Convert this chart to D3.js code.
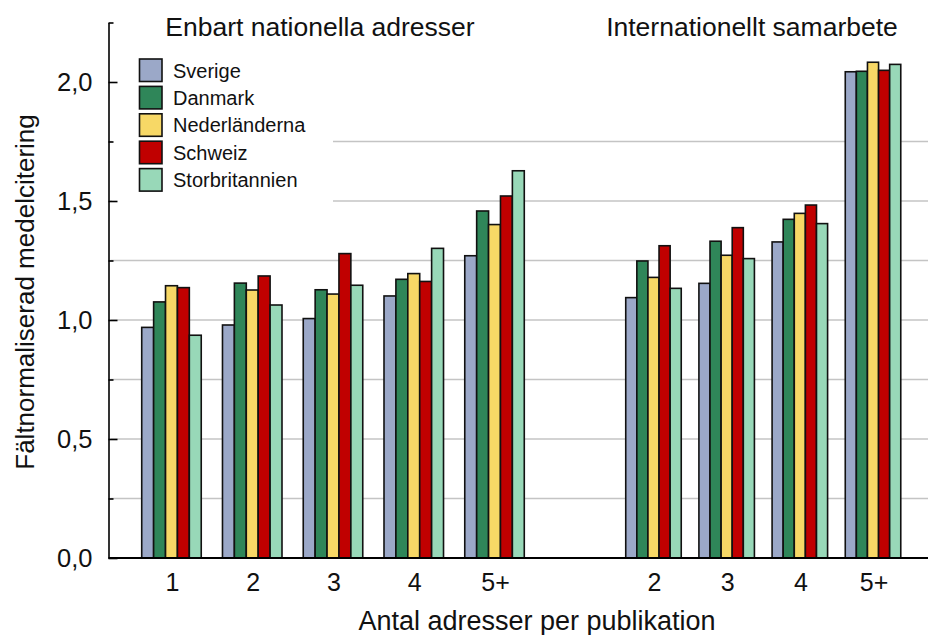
<!DOCTYPE html>
<html>
<head>
<meta charset="utf-8">
<script src="https://cdn.jsdelivr.net/npm/d3@7"></script>
<style>
  html, body { margin: 0; padding: 0; background: #fff; }
  svg { display: block; font-family: "Liberation Sans", Arial, sans-serif; }
</style>
</head>
<body>
<svg id="chart" width="928" height="635"></svg>
<script>
// ---- data ----
const series = ["Sverige", "Danmark", "Nederländerna", "Schweiz", "Storbritannien"];
const seriesColors = ["#9ba8c8", "#2f8659", "#f7d866", "#c00000", "#98d8b8"];

const nationalCategories = ["1", "2", "3", "4", "5+"];
const internationalCategories = ["2", "3", "4", "5+"];

const natSverige        = [0.969, 0.979, 1.006, 1.101, 1.270];
const natDanmark        = [1.076, 1.155, 1.127, 1.171, 1.458];
const natNederlanderna  = [1.144, 1.126, 1.109, 1.195, 1.401];
const natSchweiz        = [1.136, 1.185, 1.279, 1.162, 1.521];
const natStorbritannien = [0.936, 1.063, 1.146, 1.301, 1.627];

const intSverige        = [1.094, 1.154, 1.328, 2.043];
const intDanmark        = [1.248, 1.331, 1.423, 2.045];
const intNederlanderna  = [1.179, 1.272, 1.448, 2.083];
const intSchweiz        = [1.312, 1.388, 1.483, 2.049];
const intStorbritannien = [1.133, 1.258, 1.405, 2.074];

const majorTicks = [0, 0.5, 1.0, 1.5, 2.0];
const minorTicks = [0.25, 0.75, 1.25, 1.75, 2.25];
const gridValues = [0.25, 0.5, 0.75, 1.0, 1.25, 1.5, 1.75];

const panelTitles = ["Enbart nationella adresser", "Internationellt samarbete"];
const yTitle = "Fältnormaliserad medelcitering";
const xTitle = "Antal adresser per publikation";

const natTable = [natSverige, natDanmark, natNederlanderna, natSchweiz, natStorbritannien];
const intTable = [intSverige, intDanmark, intNederlanderna, intSchweiz, intStorbritannien];

// ---- layout ----
const svg = d3.select("#chart");
const axisX = 108.5;
const rightEdge = 928;
const y = d3.scaleLinear().domain([0, 2.25]).range([558, 22.5]);
const locale = d3.formatLocale({decimal: ",", thousands: " ", grouping: [3], currency: ["", " kr"]});
const fmt = locale.format(".1f");

const xNat = d3.scaleBand().domain(nationalCategories).range([131.1, 534.9])
  .paddingInner(0.263).paddingOuter(0.1315);
const xInt = d3.scaleBand().domain(internationalCategories).range([616.9, 909.6])
  .paddingInner(0.2415).paddingOuter(0.12075);

// gridlines
svg.append("g").selectAll("line").data(gridValues).join("line")
  .attr("x1", axisX + 2).attr("x2", rightEdge)
  .attr("y1", d => y(d)).attr("y2", d => y(d))
  .attr("stroke", "#c4c4c4").attr("stroke-width", 1.6);

// legend background (hides gridlines behind it)
svg.append("rect").attr("x", axisX + 3).attr("y", 46).attr("width", 333 - axisX - 3).attr("height", 166)
  .attr("fill", "#fff");

// bars
function drawPanel(xScale, cats, table) {
  const inner = d3.scaleBand().domain(series).range([0, xScale.bandwidth()]);
  const g = svg.append("g");
  cats.forEach((c, ci) => {
    series.forEach((s, si) => {
      const v = table[si][ci];
      g.append("rect")
        .attr("x", xScale(c) + inner(s))
        .attr("y", y(v))
        .attr("width", inner.bandwidth())
        .attr("height", y(0) - y(v))
        .attr("fill", seriesColors[si])
        .attr("stroke", "#111")
        .attr("stroke-width", 1.6);
    });
  });
  // category labels
  svg.append("g").selectAll("text").data(cats).join("text")
    .attr("x", d => xScale(d) + xScale.bandwidth() / 2 + 1)
    .attr("y", 591)
    .attr("text-anchor", "middle")
    .attr("font-size", 25)
    .attr("fill", "#111")
    .text(d => d);
}
drawPanel(xNat, nationalCategories, natTable);
drawPanel(xInt, internationalCategories, intTable);

// baseline
svg.append("line").attr("x1", axisX).attr("x2", rightEdge)
  .attr("y1", y(0)).attr("y2", y(0))
  .attr("stroke", "#000").attr("stroke-width", 2.2);

// y axis (ticks point inward)
const yAxisMajor = d3.axisLeft(y).tickValues(majorTicks).tickSizeInner(-9).tickSizeOuter(0)
  .tickPadding(16).tickFormat(fmt);
const ga = svg.append("g").attr("transform", `translate(${axisX},0)`).call(yAxisMajor);
ga.select(".domain").attr("stroke", "#000").attr("stroke-width", 1.6);
ga.selectAll(".tick line").attr("stroke", "#000").attr("stroke-width", 1.6);
ga.selectAll(".tick text").attr("font-size", 25.5).attr("fill", "#111")
  .attr("font-family", "Liberation Sans, Arial, sans-serif");

const yAxisMinor = d3.axisLeft(y).tickValues(minorTicks).tickSizeInner(-5).tickSizeOuter(0)
  .tickFormat("");
const gm = svg.append("g").attr("transform", `translate(${axisX},0)`).call(yAxisMinor);
gm.select(".domain").remove();
gm.selectAll(".tick line").attr("stroke", "#000").attr("stroke-width", 1.6);

// legend
const legend = svg.append("g");
series.forEach((s, i) => {
  const yy = 59 + i * 27.4;
  legend.append("rect").attr("x", 139.5).attr("y", yy).attr("width", 22.5).attr("height", 22.5)
    .attr("fill", seriesColors[i]).attr("stroke", "#111").attr("stroke-width", 1.6);
  legend.append("text").attr("x", 173).attr("y", yy + 18.5)
    .attr("font-size", 20).attr("fill", "#111").text(s);
});

// titles
svg.append("text").attr("x", 320).attr("y", 35.5).attr("text-anchor", "middle")
  .attr("font-size", 26.5).attr("fill", "#111").text(panelTitles[0]);
svg.append("text").attr("x", 752).attr("y", 35.5).attr("text-anchor", "middle")
  .attr("font-size", 26.5).attr("fill", "#111").text(panelTitles[1]);

// axis titles
svg.append("text").attr("transform", "translate(34,292) rotate(-90)")
  .attr("text-anchor", "middle").attr("font-size", 26).attr("fill", "#111").text(yTitle);
svg.append("text").attr("x", 537).attr("y", 630).attr("text-anchor", "middle")
  .attr("font-size", 27).attr("fill", "#111").text(xTitle);
</script>
</body>
</html>
